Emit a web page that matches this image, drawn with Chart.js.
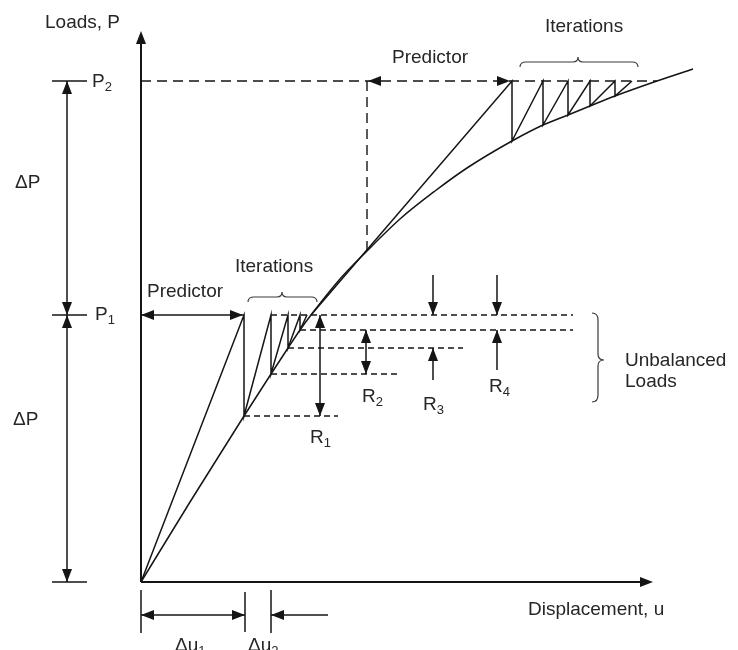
<!DOCTYPE html>
<html>
<head>
<meta charset="utf-8">
<script src="https://cdn.jsdelivr.net/npm/chart.js@4/dist/chart.umd.min.js"></script>
<style>
  html, body { margin: 0; padding: 0; background: #fff; }
  canvas { display: block; }
</style>
</head>
<body>
<canvas id="chart" width="738" height="650"></canvas>
<script>
// load - displacement curve (u right, P up, origin at axes)
const curveU = [0, 49, 103, 130, 147, 159, 170, 199, 226, 259, 294, 326, 371, 402, 427, 449, 474, 516, 552]
const curveP = [0, 80, 166, 208, 234, 252, 267, 303, 331, 363, 391, 414, 441, 457, 467, 476, 486, 501, 513]

// load levels
const P1 = 267
const P2 = 501

// first load step: predictor + iterations (zig-zag)
const step1U = [0, 103, 103, 130, 130, 147, 147, 159, 159, 166]
const step1P = [0, P1, 166, 267, 208, 267, 234, 267, 252, 267]

// second load step
const step2U = [170, 371, 371, 402, 402, 427, 427, 449, 449, 474, 474, 491]
const step2P = [267, P2, 441, 501, 457, 501, 467, 501, 476, 501, 486, 501]

// unbalanced load levels (dashed)
const residualP = [P1, 252, 234, 208, 166]
const residualFrom = [130, 159, 147, 130, 103]
const residualTo = [432, 432, 322, 256, 197]

// the other dashed lines
const p2LineU = [0, 516]
const predictorDropU = 226
const predictorDropP = [331, P2]

const axisEndU = 512
const axisEndP = 551

const INK = '#151515'
const TXT = '#262626'
const FONT = '"Liberation Sans", Arial, sans-serif'

function pts(us, ps) {
    return us.map((u, i) => ({ x: u, y: ps[i] }))
}

function seg(data, extra) {
    return Object.assign({
        data: data,
        showLine: true,
        pointRadius: 0,
        borderColor: INK,
        borderWidth: 1.5,
        fill: false
    }, extra || {})
}

const datasets = []
datasets.push(seg(pts(curveU, curveP), { cubicInterpolationMode: 'monotone' }))
datasets.push(seg(pts(step1U, step1P)))
datasets.push(seg(pts(step2U, step2P)))

for (var i = 0; i < residualP.length; i++) {
    datasets.push(seg([{ x: residualFrom[i], y: residualP[i] }, { x: residualTo[i], y: residualP[i] }],
        { borderDash: [6, 4], borderWidth: 1.4 }))
}

datasets.push(seg([{ x: p2LineU[0], y: P2 }, { x: p2LineU[1], y: P2 }], { borderDash: [10, 6], borderWidth: 1.4 }))
datasets.push(seg([{ x: predictorDropU, y: predictorDropP[0] }, { x: predictorDropU, y: predictorDropP[1] }],
    { borderDash: [10, 6], borderWidth: 1.4 }))

// axes
datasets.push(seg([{ x: 0, y: 0 }, { x: axisEndU - 10, y: 0 }], { borderWidth: 2 }))
datasets.push(seg([{ x: 0, y: 0 }, { x: 0, y: axisEndP - 10 }], { borderWidth: 2 }))


// arrows, braces and labels
const sketch = {
    id: 'sketch',
    afterDatasetsDraw(chart) {
        const ctx = chart.ctx
        const X = v => chart.scales.x.getPixelForValue(v)
        const Y = v => chart.scales.y.getPixelForValue(v)

        ctx.save()
        ctx.strokeStyle = INK
        ctx.fillStyle = INK
        ctx.lineWidth = 1.5

        function line(u1, p1, u2, p2) {
            ctx.beginPath()
            ctx.moveTo(X(u1), Y(p1))
            ctx.lineTo(X(u2), Y(p2))
            ctx.stroke()
        }

        // dir: 'up', 'down', 'left', 'right' = where the tip points
        function head(u, p, dir) {
            const x = X(u), y = Y(p)
            const L = 13, H = 5
            ctx.beginPath()
            ctx.moveTo(x, y)
            if (dir === 'up') { ctx.lineTo(x - H, y + L); ctx.lineTo(x + H, y + L) }
            if (dir === 'down') { ctx.lineTo(x - H, y - L); ctx.lineTo(x + H, y - L) }
            if (dir === 'left') { ctx.lineTo(x + L, y - H); ctx.lineTo(x + L, y + H) }
            if (dir === 'right') { ctx.lineTo(x - L, y - H); ctx.lineTo(x - L, y + H) }
            ctx.closePath()
            ctx.fill()
        }

        // axis heads
        head(0, axisEndP, 'up')
        head(axisEndU, 0, 'right')

        // load step dimension on the left
        line(-74, P2, -74, 0)
        line(-89, P2, -54, P2)
        line(-89, P1, -54, P1)
        line(-89, 0, -54, 0)
        head(-74, P2, 'up')
        head(-74, P1, 'down')
        head(-74, P1, 'up')
        head(-74, 0, 'down')

        // predictors
        line(0, P1, 103, P1)
        head(0, P1, 'left')
        head(102, P1, 'right')
        head(227, P2, 'left')
        head(369, P2, 'right')

        // unbalanced loads R1..R4
        line(179, P1, 179, 166)
        head(179, P1, 'up')
        head(179, 166, 'down')
        line(225, 252, 225, 208)
        head(225, 252, 'up')
        head(225, 208, 'down')
        line(292, 307, 292, P1)
        head(292, P1, 'down')
        line(292, 202, 292, 234)
        head(292, 234, 'up')
        line(356, 307, 356, P1)
        head(356, P1, 'down')
        line(356, 212, 356, 252)
        head(356, 252, 'up')

        // displacement increments at the bottom
        line(0, -8, 0, -51)
        line(104, -10, 104, -50)
        line(130, -8, 130, -51)
        line(0, -33, 104, -33)
        head(0, -33, 'left')
        head(104, -33, 'right')
        line(187, -33, 130, -33)
        head(130, -33, 'left')

        // braces
        ctx.strokeStyle = '#3a3a3a'
        ctx.lineWidth = 1.2
        function hBrace(u1, u2, um, p) {
            const x1 = X(u1), x2 = X(u2), xm = X(um), y = Y(p)
            ctx.beginPath()
            ctx.moveTo(x1, y + 5)
            ctx.quadraticCurveTo(x1, y, x1 + 6, y)
            ctx.lineTo(xm - 5, y)
            ctx.quadraticCurveTo(xm, y, xm, y - 5)
            ctx.quadraticCurveTo(xm, y, xm + 5, y)
            ctx.lineTo(x2 - 6, y)
            ctx.quadraticCurveTo(x2, y, x2, y + 5)
            ctx.stroke()
        }
        function vBrace(u, p1, p2, pm) {
            const x = X(u), y1 = Y(p1), y2 = Y(p2), ym = Y(pm)
            ctx.beginPath()
            ctx.moveTo(x - 6, y1)
            ctx.quadraticCurveTo(x, y1, x, y1 + 7)
            ctx.lineTo(x, ym - 6)
            ctx.quadraticCurveTo(x, ym, x + 6, ym)
            ctx.quadraticCurveTo(x, ym, x, ym + 6)
            ctx.lineTo(x, y2 - 7)
            ctx.quadraticCurveTo(x, y2, x - 6, y2)
            ctx.stroke()
        }
        hBrace(107, 176, 141, 285)
        hBrace(379, 497, 437, 520)
        vBrace(457, 269, 180, 222)

        // labels
        ctx.fillStyle = TXT
        ctx.textBaseline = 'middle'
        ctx.textAlign = 'left'
        function text(s, u, p) {
            ctx.font = '19px ' + FONT
            ctx.fillText(s, X(u), Y(p))
        }
        function subText(s, sub, u, p) {
            ctx.font = '19px ' + FONT
            ctx.fillText(s, X(u), Y(p))
            const w = ctx.measureText(s).width
            ctx.font = '13px ' + FONT
            ctx.fillText(sub, X(u) + w, Y(p) + 5)
        }

        text('Loads, P', -96, 559)
        text('Displacement, u', 387, -28)
        text('Predictor', 6, 290)
        text('Iterations', 94, 315)
        text('Predictor', 251, 524)
        text('Iterations', 404, 555)
        text('Unbalanced', 484, 221)
        text('Loads', 484, 200)
        text('\u0394P', -126, 399)
        text('\u0394P', -128, 162)
        subText('P', '2', -49, 500)
        subText('P', '1', -46, P1)
        subText('R', '1', 169, 144)
        subText('R', '2', 221, 185)
        subText('R', '3', 282, 177)
        subText('R', '4', 348, 195)
        subText('\u0394u', '1', 34, -64)
        subText('\u0394u', '2', 107, -64)

        ctx.restore()
    }
}

const chart = new Chart(document.getElementById('chart').getContext('2d'), {
    type: 'scatter',
    data: { datasets: datasets },
    options: {
        responsive: false,
        devicePixelRatio: 1,
        animation: false,
        layout: { padding: 0 },
        scales: {
            x: { type: 'linear', min: -141, max: 597, display: false },
            y: { type: 'linear', min: -68, max: 582, display: false }
        },
        plugins: {
            legend: { display: false },
            tooltip: { enabled: false }
        }
    },
    plugins: [sketch]
})
</script>
</body>
</html>
